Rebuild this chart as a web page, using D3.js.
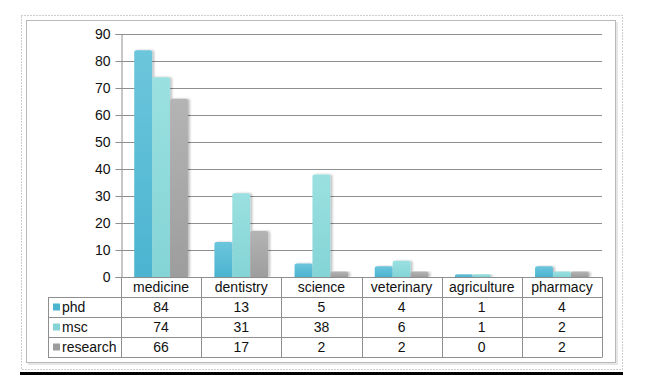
<!DOCTYPE html>
<html>
<head>
<meta charset="utf-8">
<script src="https://cdn.jsdelivr.net/npm/d3@7"></script>
<style>
  body { margin: 0; background: #fff; }
  svg { display: block; font-family: "Liberation Sans", Arial, sans-serif; }
</style>
</head>
<body>
<svg id="chart"></svg>
<script>
// data
let categories = ['medicine', 'dentistry', 'science', 'veterinary', 'agriculture', 'pharmacy'];
let series = ['phd', 'msc', 'research'];
let phd = [84, 13, 5, 4, 1, 4];
let msc = [74, 31, 38, 6, 1, 2];
let research = [66, 17, 2, 2, 0, 2];
let yTicks = [0, 10, 20, 30, 40, 50, 60, 70, 80, 90];

let values = { phd: phd, msc: msc, research: research };
let colors = { phd: ['#6cc6dc', '#4bb4d0'], msc: ['#9be0e0', '#84d4d6'], research: ['#b4b4b4', '#9d9d9d'] };

let w = 649, h = 390;
let plotLeft = 121, plotRight = 602, plotTop = 34, plotBottom = 277;
let rowH = 20;
let fontSize = 14;

let svg = d3.select('#chart').attr('width', w).attr('height', h);

let defs = svg.append('defs');
series.forEach(s => {
  let g = defs.append('linearGradient').attr('id', 'g-' + s)
    .attr('x1', 0).attr('y1', 0).attr('x2', 0).attr('y2', 1);
  g.append('stop').attr('offset', '0%').attr('stop-color', colors[s][0]);
  g.append('stop').attr('offset', '100%').attr('stop-color', colors[s][1]);
});
let shadow = defs.append('filter').attr('id', 'shadow')
  .attr('x', '-20%').attr('y', '-5%').attr('width', '150%').attr('height', '120%');
shadow.append('feDropShadow').attr('dx', 2).attr('dy', 0).attr('stdDeviation', 1.2)
  .attr('flood-color', '#000').attr('flood-opacity', 0.25);

// frames
svg.append('rect')
  .attr('x', 21.5).attr('y', 15.5).attr('width', 601).attr('height', 354)
  .attr('fill', 'none').attr('stroke', '#9a9a9a').attr('stroke-dasharray', '1,2');
svg.append('rect')
  .attr('x', 28).attr('y', 22).attr('width', 590).attr('height', 343)
  .attr('fill', '#e6e6e6');
svg.append('rect')
  .attr('x', 26.5).attr('y', 20.5).attr('width', 589).attr('height', 342)
  .attr('fill', '#fff').attr('stroke', '#b8b8b8');
svg.append('rect')
  .attr('x', 20).attr('y', 372).attr('width', 603).attr('height', 3)
  .attr('fill', '#000');

// scales
let x0 = d3.scaleBand().domain(categories).range([plotLeft, plotRight]);
let pad = x0.bandwidth() * 0.165;
let x1 = d3.scaleBand().domain(series).range([pad, x0.bandwidth() - pad]);
let y = d3.scaleLinear().domain([0, 90]).range([plotBottom, plotTop]);

// gridlines
svg.append('g').selectAll('line')
  .data(yTicks.filter(t => t > 0))
  .enter().append('line')
  .attr('x1', plotLeft).attr('x2', plotRight)
  .attr('y1', d => Math.round(y(d)) + 0.5).attr('y2', d => Math.round(y(d)) + 0.5)
  .attr('stroke', '#8e8e8e').attr('stroke-width', 1.2);

// y axis
let yAxis = d3.axisLeft(y).tickValues(yTicks).tickSize(6).tickPadding(5);
let yAxisGroup = svg.append('g')
  .attr('transform', `translate(${plotLeft + 0.5}, 0)`)
  .call(yAxis);
yAxisGroup.select('.domain').attr('stroke', '#8e8e8e');
yAxisGroup.selectAll('.tick line').attr('stroke', '#8e8e8e');
yAxisGroup.selectAll('.tick text')
  .attr('font-size', fontSize).attr('fill', '#111')
  .attr('font-family', '"Liberation Sans", Arial, sans-serif');

// bars
let groups = svg.append('g').selectAll('g')
  .data(categories)
  .enter().append('g')
  .attr('transform', d => `translate(${x0(d)}, 0)`);

groups.selectAll('path')
  .data((d, i) => series.map(s => ({ s: s, v: values[s][i] })))
  .enter().append('path')
  .filter(d => d.v > 0)
  .attr('d', d => {
    let bx = x1(d.s), bw = x1.bandwidth();
    let by = y(d.v), bh = y(0) - y(d.v);
    let r = Math.min(2, bh);
    return `M${bx},${by + bh}V${by + r}Q${bx},${by} ${bx + r},${by}H${bx + bw - r}Q${bx + bw},${by} ${bx + bw},${by + r}V${by + bh}Z`;
  })
  .attr('fill', d => `url(#g-${d.s})`)
  .attr('filter', 'url(#shadow)');

// data table
let rows = ['header'].concat(series);
let ry = d3.scaleBand().domain(rows).range([plotBottom, plotBottom + rowH * rows.length]);
let tableLeft = 48;
let table = svg.append('g')
  .attr('stroke', '#8e8e8e').attr('stroke-width', 1);

// horizontal lines
rows.forEach((r, i) => {
  let yy = Math.round(ry(r) + ry.bandwidth()) + 0.5;
  table.append('line')
    .attr('x1', tableLeft).attr('x2', plotRight)
    .attr('y1', yy).attr('y2', yy);
});
table.append('line')
  .attr('x1', plotLeft).attr('x2', plotRight)
  .attr('y1', plotBottom + 0.5).attr('y2', plotBottom + 0.5);

// vertical lines
categories.forEach(c => {
  table.append('line')
    .attr('x1', Math.round(x0(c)) + 0.5).attr('x2', Math.round(x0(c)) + 0.5)
    .attr('y1', plotBottom).attr('y2', ry.range()[1] + 0.5);
});
table.append('line')
  .attr('x1', plotRight + 0.5).attr('x2', plotRight + 0.5)
  .attr('y1', plotBottom).attr('y2', ry.range()[1] + 0.5);
table.append('line')
  .attr('x1', tableLeft + 0.5).attr('x2', tableLeft + 0.5)
  .attr('y1', ry('phd')).attr('y2', ry.range()[1] + 0.5);

// header labels
svg.append('g').selectAll('text')
  .data(categories)
  .enter().append('text')
  .attr('x', d => x0(d) + x0.bandwidth() / 2)
  .attr('y', ry('header') + ry.bandwidth() / 2 + 1)
  .attr('text-anchor', 'middle').attr('dominant-baseline', 'middle')
  .attr('font-size', fontSize).attr('fill', '#111')
  .text(d => d);

// series rows
series.forEach(s => {
  let cy = ry(s) + ry.bandwidth() / 2;
  svg.append('rect')
    .attr('x', 53).attr('y', cy - 3.5).attr('width', 7).attr('height', 7)
    .attr('fill', colors[s][1]);
  svg.append('text')
    .attr('x', 62).attr('y', cy + 1)
    .attr('dominant-baseline', 'middle')
    .attr('font-size', fontSize).attr('fill', '#111')
    .text(s);
  svg.append('g').selectAll('text')
    .data(values[s])
    .enter().append('text')
    .attr('x', (d, i) => x0(categories[i]) + x0.bandwidth() / 2)
    .attr('y', cy + 1)
    .attr('text-anchor', 'middle').attr('dominant-baseline', 'middle')
    .attr('font-size', fontSize).attr('fill', '#111')
    .text(d => d);
});
</script>
</body>
</html>
